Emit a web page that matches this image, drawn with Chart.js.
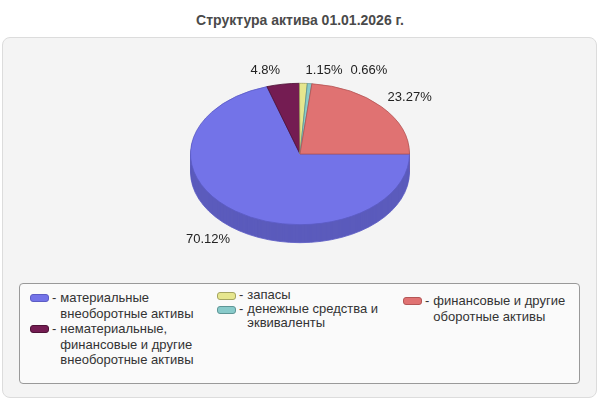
<!DOCTYPE html>
<html>
<head>
<meta charset="utf-8">
<script src="https://cdn.jsdelivr.net/npm/chart.js@4/dist/chart.umd.min.js"></script>
<style>
  body { margin: 0; background: #fff; font-family: "Liberation Sans", Arial, sans-serif; }
  #wrap { position: relative; width: 600px; height: 400px; overflow: hidden; }
  #title { position: absolute; left: 0; top: 12px; width: 600px; text-align: center;
           font-weight: bold; font-size: 14px; line-height: 17px; color: #4a4a4a; }
  #panel { position: absolute; left: 2px; top: 37px; width: 593px; height: 359px;
           background: #f4f4f4; border: 1px solid #dcdcdc; border-radius: 8px; }
  #legend { position: absolute; left: 19px; top: 283px; width: 559px; height: 99px;
            background: #fafafa; border: 1px solid #999; border-radius: 4px; }
  .col { position: absolute; }
  .item { display: flex; align-items: flex-start; font-size: 13px; color: #333; }
  .sw { width: 17px; height: 6px; border-radius: 3px; border: 1px solid; margin-top: 4px; flex: none; }
  .dash { margin: 0 4px 0 3px; flex: none; }
  .txt { width: 142px; }
  canvas { position: absolute; left: 0; top: 0; }
</style>
</head>
<body>
<div id="wrap">
  <div id="title">Структура актива 01.01.2026 г.</div>
  <div id="panel"></div>
  <div id="legend"></div>
  <canvas id="pie" width="600" height="400"></canvas>
</div>
<script>
// slices, clockwise from 3 o'clock
const categories = [
  'материальные внеоборотные активы',
  'нематериальные, финансовые и другие внеоборотные активы',
  'запасы',
  'денежные средства и эквиваленты',
  'финансовые и другие оборотные активы'
];
const values = [70.12, 4.8, 1.15, 0.66, 23.27];
const topColors = ['#7373e8', '#741c52', '#e6e68e', '#88caca', '#e07272'];
const sideColors = ['#5b5bbc', '#5a1540', '#b8b870', '#6ca2a2', '#b45a5a'];
const edgeColors = ['#5c5cc4', '#4e1236', '#a4a460', '#5e9696', '#b45656'];
// legend columns (indexes into categories)
const legendCols = [[0, 1], [2, 3], [4]];

const depth = 18;
const tilt = 71 / 110;

// legend
const legendEl = document.getElementById('legend');
const colPos = [{ x: 10, y: 6, lh: 15.5 }, { x: 197, y: 4, lh: 14 }, { x: 383, y: 9, lh: 15.5 }];
legendCols.forEach((col, ci) => {
  const c = document.createElement('div');
  c.className = 'col';
  c.style.left = colPos[ci].x + 'px';
  c.style.top = colPos[ci].y + 'px';
  col.forEach(i => {
    const it = document.createElement('div');
    it.className = 'item';
    it.style.lineHeight = colPos[ci].lh + 'px';
    it.innerHTML = '<span class="sw" style="background:' + topColors[i] + ';border-color:' + edgeColors[i] +
      '"></span><span class="dash">-</span><span class="txt">' + categories[i] + '</span>';
    c.appendChild(it);
  });
  legendEl.appendChild(c);
});

// tilted pie with a side wall + outside labels
const pie3d = {
  id: 'pie3d',
  beforeDatasetsDraw(chart) {
    const ctx = chart.ctx;
    const arcs = chart.getDatasetMeta(0).data;
    const cx = arcs[0].x, cy = arcs[0].y;
    ctx.save();
    ctx.translate(cx, cy);
    ctx.scale(1, tilt);
    ctx.translate(-cx, -cy);
    for (let d = depth; d > 0; d--) {
      arcs.forEach((a, i) => {
        const oy = a.y + d / tilt;
        ctx.beginPath();
        ctx.moveTo(a.x, oy);
        ctx.arc(a.x, oy, a.outerRadius, a.startAngle, a.endAngle);
        ctx.closePath();
        ctx.fillStyle = sideColors[i];
        ctx.fill();
        if (d === depth) {
          ctx.beginPath();
          ctx.arc(a.x, oy, a.outerRadius, a.startAngle, a.endAngle);
          ctx.lineWidth = 1;
          ctx.strokeStyle = edgeColors[i];
          ctx.stroke();
        }
      });
    }
  },
  afterDatasetsDraw(chart) {
    const ctx = chart.ctx;
    ctx.restore();
    const arcs = chart.getDatasetMeta(0).data;
    ctx.save();
    ctx.font = '13px "Liberation Sans", Arial, sans-serif';
    ctx.fillStyle = '#222';
    ctx.textBaseline = 'middle';
    ctx.textAlign = 'left';
    const placed = [];
    arcs.forEach((a, i) => {
      const mid = (a.startAngle + a.endAngle) / 2;
      const c = Math.cos(mid), s = Math.sin(mid);
      const text = values[i] + '%';
      const w = ctx.measureText(text).width;
      const ax = a.x + c * a.outerRadius * 1.05;
      const y = a.y + s * a.outerRadius * tilt * 1.19 + (s > 0 ? depth : 0);
      let left = c >= 0 ? ax + 2 : ax - 2 - w;
      placed.forEach(p => {
        if (Math.abs(p.y - y) < 14 && left < p.left + p.w + 8 && left + w > p.left - 8) {
          left = c >= 0 ? p.left + p.w + 8 : p.left - 8 - w;
        }
      });
      placed.push({ left, y, w });
      ctx.fillText(text, left, y);
    });
    ctx.restore();
  }
};

new Chart(document.getElementById('pie'), {
  type: 'pie',
  data: {
    labels: categories,
    datasets: [{
      data: values,
      backgroundColor: topColors,
      borderColor: edgeColors,
      borderWidth: 1
    }]
  },
  options: {
    responsive: false,
    animation: false,
    rotation: 90,
    layout: { padding: { left: 190, right: 190, top: 44, bottom: 136 } },
    plugins: { legend: { display: false }, tooltip: { enabled: false } },
    events: []
  },
  plugins: [pie3d]
});
</script>
</body>
</html>
